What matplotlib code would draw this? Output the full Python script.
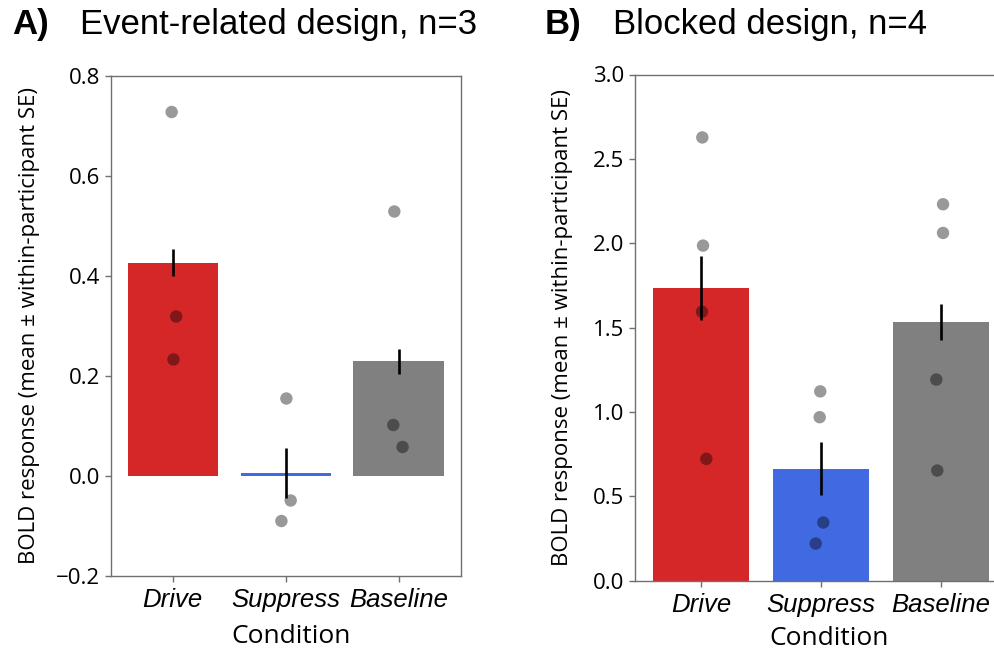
import matplotlib
matplotlib.use("Agg")
import matplotlib.pyplot as plt
import numpy as np

# ---- data -------------------------------------------------------------
conditions = ["Drive", "Suppress", "Baseline"]
bar_colors = ["#d62728", "#4169e1", "#808080"]

# Event-related design (n=3): per-participant responses per condition
event_drive = [0.727, 0.318, 0.232]
event_suppress = [0.154, -0.050, -0.091]
event_baseline = [0.528, 0.101, 0.057]
event_se = [0.027, 0.050, 0.025]
event_jitter = [[-0.01, 0.03, 0.006], [0.006, 0.044, -0.038], [-0.038, -0.047, 0.035]]

# Blocked design (n=4)
block_drive = [2.627, 1.986, 1.594, 0.722]
block_suppress = [1.122, 0.969, 0.345, 0.220]
block_baseline = [2.231, 2.061, 1.192, 0.653]
block_se = [0.19, 0.156, 0.105]
block_jitter = [[0.011, 0.017, 0.008, 0.044], [-0.006, -0.011, 0.019, -0.044], [0.017, 0.017, -0.039, -0.031]]

event_ticks = [-0.2, 0.0, 0.2, 0.4, 0.6, 0.8]
block_ticks = [0.0, 0.5, 1.0, 1.5, 2.0, 2.5, 3.0]

NUM_FONT = "Open Sans"
CAT_FONT = "Liberation Sans"

W, H = 995, 652
fig = plt.figure(figsize=(W / 100, H / 100), dpi=100)


def panel(ax, groups, se, jitter, ylim, yticks, ylab_x, xlab_pos):
    x = np.arange(len(groups))
    means = [np.mean(g) for g in groups]
    ax.bar(x, means, width=0.8, color=bar_colors, zorder=1)
    ax.errorbar(x, means, yerr=se, fmt="none", ecolor="black",
                elinewidth=1.9, capsize=0, zorder=2)
    for i, g in enumerate(groups):
        ax.scatter(i + np.array(jitter[i]), g, s=80, color="black",
                   alpha=0.4, edgecolors="none", zorder=3)
    ax.set_xlim(-0.55, 2.55)
    ax.set_ylim(*ylim)
    ax.set_yticks(yticks)
    ax.set_yticklabels([f"{t:.1f}".replace("-", "\u2212") for t in yticks],
                       fontfamily=NUM_FONT, fontsize=16)
    ax.set_xticks(x)
    ax.set_xticklabels(conditions, fontfamily=CAT_FONT, style="italic",
                       fontsize=18.5)
    for s in ax.spines.values():
        s.set_color("#707070")
        s.set_linewidth(1.0)
    ax.tick_params(colors="#707070", length=4, width=1.0, labelcolor="black")
    ax.tick_params(axis="x", pad=5)
    ax.set_xlabel("Condition", fontfamily=NUM_FONT, fontsize=19,
                  va="baseline")
    ax.xaxis.set_label_coords(*xlab_pos)
    ax.set_ylabel("BOLD response (mean \u00b1 within-participant SE)",
                  fontfamily=NUM_FONT, fontsize=16, va="center")
    ax.yaxis.set_label_coords(ylab_x, 0.5)


ax_a = fig.add_axes([110.7 / W, 1 - 575.5 / H, 350 / W, 500 / H])
panel(ax_a, [event_drive, event_suppress, event_baseline], event_se,
      event_jitter, (-0.2, 0.8), event_ticks, -0.2306, (0.515, -0.135))

ax_b = fig.add_axes([635 / W, 1 - 580.7 / H, 372 / W, 506.2 / H])
panel(ax_b, [block_drive, block_suppress, block_baseline], block_se,
      block_jitter, (0.0, 3.0), block_ticks, -0.196, (0.523, -0.127))

# panel headings
head_y = 1 - 34 / H
fig.text(12.5 / W, head_y, "A)", fontfamily=CAT_FONT, fontweight="bold",
         fontsize=25, va="baseline", ha="left")
fig.text(80 / W, head_y, "Event-related design, n=3",
         fontfamily=CAT_FONT, fontsize=25, va="baseline", ha="left")
fig.text(545 / W, head_y, "B)", fontfamily=CAT_FONT, fontweight="bold",
         fontsize=25, va="baseline", ha="left")
fig.text(613 / W, head_y, "Blocked design, n=4",
         fontfamily=CAT_FONT, fontsize=25, va="baseline", ha="left")

fig.savefig("out.png", dpi=100)
